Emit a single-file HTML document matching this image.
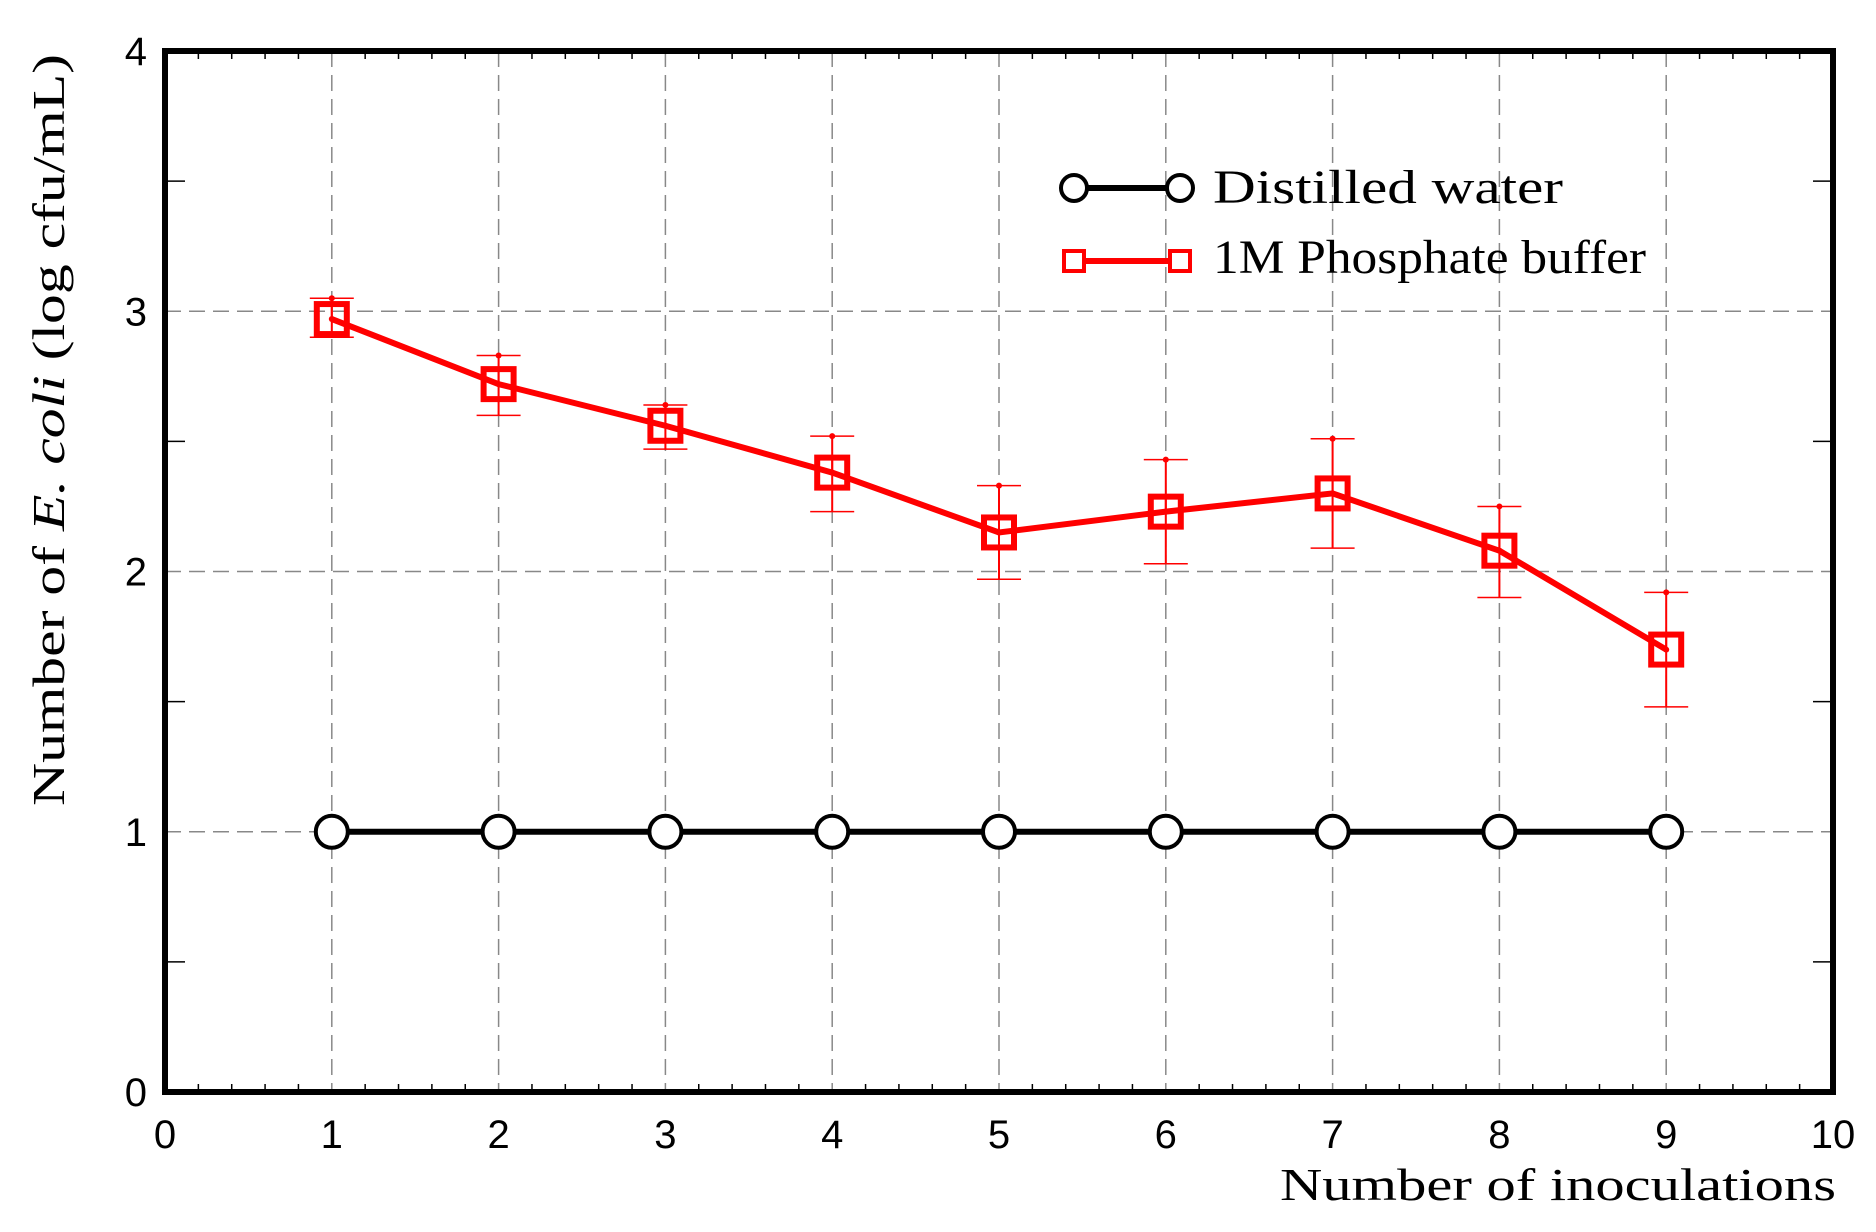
<!DOCTYPE html>
<html><head><meta charset="utf-8"><style>
html,body{margin:0;padding:0;background:#fff;}
svg{display:block;}
.tk{font-family:"Liberation Sans",sans-serif;font-size:40px;fill:#000;}
.sf{font-family:"Liberation Serif",serif;fill:#000;}
</style></head><body>
<svg id="chart" width="1876" height="1232" viewBox="0 0 1876 1232" xmlns="http://www.w3.org/2000/svg">
<g id="grid"></g>
<g id="ticks"></g>
<g id="series"></g>
<rect x="165" y="51" width="1668" height="1041" fill="none" stroke="#000" stroke-width="6"/>
<text class="sf" x="1836" y="1200" text-anchor="end" font-size="46" textLength="556" lengthAdjust="spacingAndGlyphs">Number of inoculations</text>
<text class="sf" font-size="46" transform="translate(64,430) rotate(-90)" text-anchor="middle" textLength="752" lengthAdjust="spacingAndGlyphs">Number of <tspan font-style="italic">E. coli</tspan> (log cfu/mL)</text>
<g>
<line x1="1074" y1="188" x2="1180" y2="188" stroke="#000" stroke-width="6"/>
<circle cx="1074" cy="188" r="13" fill="#fff" stroke="#000" stroke-width="4"/>
<circle cx="1180" cy="188" r="13" fill="#fff" stroke="#000" stroke-width="4"/>
<text class="sf" x="1213" y="203" font-size="48" textLength="350" lengthAdjust="spacingAndGlyphs">Distilled water</text>
<line x1="1076" y1="261" x2="1180" y2="261" stroke="#f00" stroke-width="6"/>
<rect x="1064" y="251" width="20" height="20" fill="#fff" stroke="#f00" stroke-width="4"/>
<rect x="1170" y="251" width="20" height="20" fill="#fff" stroke="#f00" stroke-width="4"/>
<text class="sf" x="1213" y="273" font-size="48" textLength="433" lengthAdjust="spacingAndGlyphs">1M Phosphate buffer</text>
</g>
</svg>
<script>
const xCats=[1,2,3,4,5,6,7,8,9];
const waterVals=[1,1,1,1,1,1,1,1,1];
const phosVals=[2.97,2.72,2.56,2.38,2.15,2.23,2.30,2.08,1.70];
const phosUpper=[3.05,2.83,2.64,2.52,2.33,2.43,2.51,2.25,1.92];
const phosLower=[2.90,2.60,2.47,2.23,1.97,2.03,2.09,1.90,1.48];
const xTicks=[0,1,2,3,4,5,6,7,8,9,10];
const yTicks=[0,1,2,3,4];
const NS='http://www.w3.org/2000/svg';
const X0=165,X1=1833,Y0=1092,Y1=51;
function sx(v){return X0+(v-0)/10*(X1-X0);}
function sy(v){return Y0-(v-0)/4*(Y0-Y1);}
function mk(tag,attrs,parent){const e=document.createElementNS(NS,tag);for(const k in attrs)e.setAttribute(k,attrs[k]);parent.appendChild(e);return e;}
const grid=document.getElementById('grid'),ticks=document.getElementById('ticks'),ser=document.getElementById('series');
xTicks.forEach(t=>{
  if(t>0&&t<10){const g=mk('line',{x1:sx(t),x2:sx(t),y1:Y1,y2:Y0,stroke:'#888','stroke-width':1.5,'stroke-dasharray':'16 8'},grid);
  
  }
  const l=mk('text',{x:sx(t),y:1148,'text-anchor':'middle',class:'tk'},ticks);l.textContent=t;
  
  
});
for(let m=0;m<=50;m++){const v=m*0.2;if(m%5===0)continue;
  mk('line',{x1:sx(v),x2:sx(v),y1:Y0,y2:Y0-8,stroke:'#000','stroke-width':1.5},ticks);
  mk('line',{x1:sx(v),x2:sx(v),y1:Y1,y2:Y1+8,stroke:'#000','stroke-width':1.5},ticks);}
yTicks.forEach(t=>{
  if(t>0&&t<4){const g=mk('line',{x1:X0,x2:X1,y1:sy(t),y2:sy(t),stroke:'#888','stroke-width':1.5,'stroke-dasharray':'16 8'},grid);
  
  }
  const l=mk('text',{x:147,y:sy(t)+14,'text-anchor':'end',class:'tk'},ticks);l.textContent=t;
  
  
});
for(let v=0.5;v<4;v+=1){
  mk('line',{x1:X0,x2:X0+20,y1:sy(v),y2:sy(v),stroke:'#000','stroke-width':1.5},ticks);
  mk('line',{x1:X1,x2:X1-20,y1:sy(v),y2:sy(v),stroke:'#000','stroke-width':1.5},ticks);}
xCats.forEach((c,i)=>{const x=sx(c);
  const e=mk('line',{x1:x,x2:x,y1:sy(phosUpper[i]),y2:sy(phosLower[i]),stroke:'#f00','stroke-width':2},ser);
  
  
  mk('line',{x1:x-22,x2:x+22,y1:sy(phosUpper[i]),y2:sy(phosUpper[i]),stroke:'#f00','stroke-width':1.5},ser);
  mk('line',{x1:x-22,x2:x+22,y1:sy(phosLower[i]),y2:sy(phosLower[i]),stroke:'#f00','stroke-width':1.5},ser);
  mk('circle',{cx:x,cy:sy(phosUpper[i]),r:3,fill:'#f00'},ser);
});
const pl=mk('polyline',{points:xCats.map((c,i)=>sx(c)+','+sy(phosVals[i])).join(' '),fill:'none',stroke:'#f00','stroke-width':6},ser);


xCats.forEach((c,i)=>{const x=sx(c),y=sy(phosVals[i]);
  const r=mk('rect',{x:x-15,y:y-15,width:30,height:30,fill:'none',stroke:'#f00','stroke-width':6},ser);
  
  
  mk('line',{x1:x,x2:x,y1:y-15,y2:y,stroke:'#f00','stroke-width':2},ser);
  mk('circle',{cx:x,cy:y,r:3,fill:'#f00'},ser);
});
const wl=mk('polyline',{points:xCats.map((c,i)=>sx(c)+','+sy(waterVals[i])).join(' '),fill:'none',stroke:'#000','stroke-width':6},ser);


xCats.forEach((c,i)=>{
  const p=mk('circle',{cx:sx(c),cy:sy(waterVals[i]),r:16,fill:'#fff',stroke:'#000','stroke-width':4},ser);
  
  
});
</script>
</body></html>
